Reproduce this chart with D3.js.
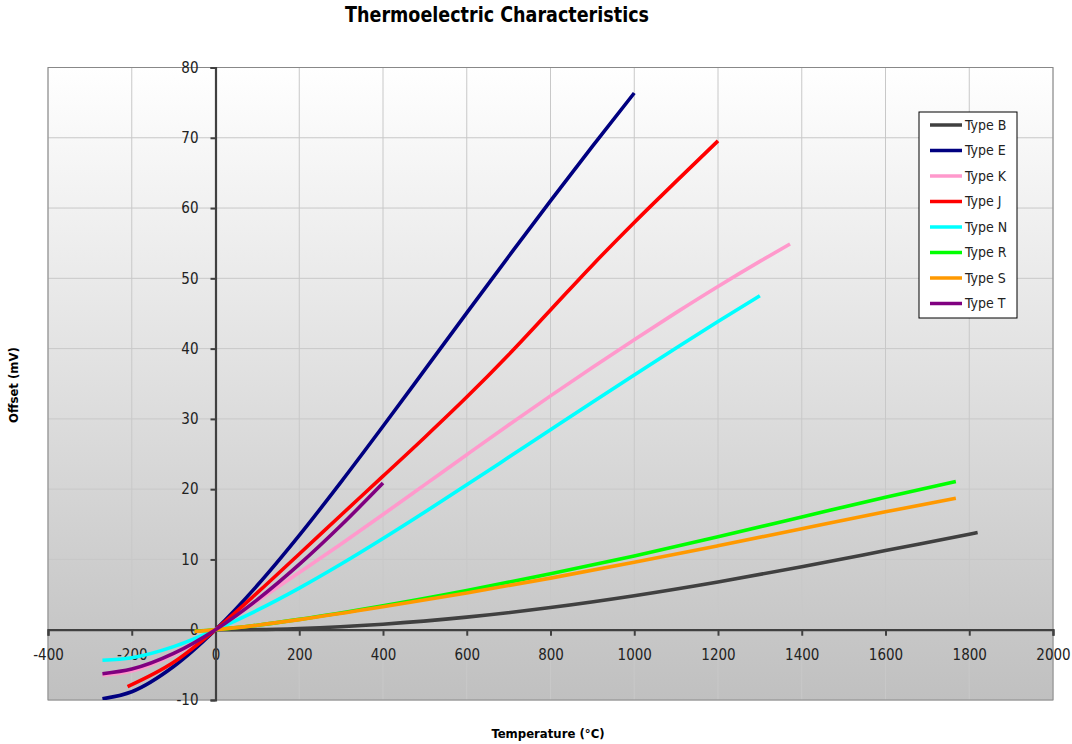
<!DOCTYPE html>
<html><head><meta charset="utf-8">
<script src="https://cdn.jsdelivr.net/npm/d3@7"></script>
<style>body{margin:0;background:#fff;} text{font-family:"DejaVu Sans Condensed","DejaVu Sans",sans-serif;font-stretch:condensed;}</style>
</head><body><svg id="c" width="1072" height="744"></svg>
<script>
const seriesNames = ["Type B","Type E","Type K","Type J","Type N","Type R","Type S","Type T"];
const seriesColors = ["#404040","#000080","#ff99cc","#ff0000","#00ffff","#00ff00","#ff9900","#800080"];
const tempB = [0,100,200,400,600,800,1000,1200,1400,1600,1800,1820];
const mvB = [0,0.033,0.178,0.787,1.792,3.154,4.834,6.786,8.956,11.263,13.591,13.820];
const tempE = [-270,-200,-100,0,100,200,300,400,500,600,700,800,900,1000];
const mvE = [-9.835,-8.825,-5.237,0,6.319,13.421,21.036,28.946,37.005,45.093,53.112,61.017,68.787,76.373];
const tempK = [-270,-200,-100,0,100,200,300,400,500,600,700,800,900,1000,1100,1200,1300,1372];
const mvK = [-6.458,-5.891,-3.554,0,4.096,8.138,12.209,16.397,20.644,24.905,29.129,33.275,37.326,41.276,45.119,48.838,52.410,54.886];
const tempJ = [-210,-100,0,100,200,300,400,500,600,700,800,900,1000,1100,1200];
const mvJ = [-8.095,-4.633,0,5.269,10.779,16.327,21.848,27.393,33.102,39.132,45.494,51.877,57.953,63.792,69.553];
const tempN = [-270,-200,-100,0,100,200,300,400,500,600,700,800,900,1000,1100,1200,1300];
const mvN = [-4.345,-3.990,-2.407,0,2.774,5.913,9.341,12.974,16.748,20.613,24.527,28.455,32.371,36.256,40.087,43.846,47.513];
const tempR = [-50,0,100,200,400,600,800,1000,1200,1400,1600,1768];
const mvR = [-0.226,0,0.647,1.469,3.408,5.583,7.950,10.506,13.228,16.040,18.849,21.101];
const tempS = [-50,0,100,200,400,600,800,1000,1200,1400,1600,1768];
const mvS = [-0.236,0,0.646,1.441,3.259,5.239,7.345,9.587,11.951,14.373,16.777,18.693];
const tempT = [-270,-200,-100,0,100,200,300,400];
const mvT = [-6.258,-5.603,-3.379,0,4.279,9.288,14.862,20.872];
const xTicks = [-400,-200,0,200,400,600,800,1000,1200,1400,1600,1800,2000];
const yTicks = [-10,0,10,20,30,40,50,60,70,80];

const temps = [tempB,tempE,tempK,tempJ,tempN,tempR,tempS,tempT];
const mvs = [mvB,mvE,mvK,mvJ,mvN,mvR,mvS,mvT];
const series = seriesNames.map((n,i)=>({name:n,color:seriesColors[i],pts:temps[i].map((t,j)=>[t,mvs[i][j]])}));

const svg = d3.select("#c");
const L=48,R=1053,T=67.5,B=700;
const x = d3.scaleLinear().domain([-400,2000]).range([L,R]);
const y = d3.scaleLinear().domain([-10,80]).range([B,T]);

const defs = svg.append("defs");
const g = defs.append("linearGradient").attr("id","bg").attr("x1",0).attr("y1",0).attr("x2",0).attr("y2",1);
g.append("stop").attr("offset","0%").attr("stop-color","#ffffff");
g.append("stop").attr("offset","100%").attr("stop-color","#c0c0c0");
defs.append("clipPath").attr("id","clip").append("rect").attr("x",L).attr("y",T).attr("width",R-L).attr("height",B-T);

svg.append("rect").attr("x",L).attr("y",T).attr("width",R-L).attr("height",B-T).attr("fill","url(#bg)");
svg.append("g").selectAll("line").data(xTicks).join("line")
  .attr("x1",d=>x(d)).attr("x2",d=>x(d)).attr("y1",T).attr("y2",B).attr("stroke","#c8c8c8").attr("stroke-width",1);
svg.append("g").selectAll("line").data(yTicks).join("line")
  .attr("y1",d=>y(d)).attr("y2",d=>y(d)).attr("x1",L).attr("x2",R).attr("stroke","#c8c8c8").attr("stroke-width",1);
svg.append("rect").attr("x",L).attr("y",T).attr("width",R-L).attr("height",B-T).attr("fill","none").attr("stroke","#888").attr("stroke-width",1);

const fmt = d=>String(d);
const xAxis = d3.axisBottom(x).tickValues(xTicks).tickSize(6).tickPadding(14).tickFormat(fmt);
const yAxis = d3.axisLeft(y).tickValues(yTicks).tickSize(5).tickPadding(12).tickFormat(fmt);
const ax = svg.append("g").attr("transform",`translate(0,${y(0)})`).call(xAxis);
const ay = svg.append("g").attr("transform",`translate(${x(0)},0)`).call(yAxis);
[ax,ay].forEach(a=>{
  a.select(".domain").attr("stroke","#404040").attr("stroke-width",2.2);
  a.selectAll(".tick line").attr("stroke","#404040").attr("stroke-width",2);
  a.selectAll(".tick text").attr("fill","#222").style("font-size","15px");
});

const line = d3.line().x(d=>x(d[0])).y(d=>y(d[1])).curve(d3.curveMonotoneX);
svg.append("g").attr("clip-path","url(#clip)").selectAll("path").data(series).join("path")
  .attr("d",d=>line(d.pts)).attr("fill","none").attr("stroke",d=>d.color).attr("stroke-width",3.6).attr("stroke-linejoin","round");

svg.append("text").attr("x",497).attr("y",22).attr("text-anchor","middle").attr("textLength",304).attr("lengthAdjust","spacingAndGlyphs").style("font-size","21px").style("font-weight","bold").text("Thermoelectric Characteristics");
svg.append("text").attr("x",548).attr("y",738).attr("text-anchor","middle").style("font-size","13px").style("font-weight","bold").text("Temperature (°C)");
svg.append("text").attr("transform","translate(18,385) rotate(-90)").attr("text-anchor","middle").style("font-size","13px").style("font-weight","bold").text("Offset (mV)");

const lg = svg.append("g").attr("transform","translate(919,112)");
lg.append("rect").attr("width",98).attr("height",206).attr("fill","#fff").attr("stroke","#000").attr("stroke-width",1);
const items = lg.selectAll("g").data(series).join("g").attr("transform",(d,i)=>`translate(0,${13+i*25.5})`);
items.append("line").attr("x1",11).attr("x2",43).attr("stroke",d=>d.color).attr("stroke-width",3.5);
items.append("text").attr("x",46).attr("dy","0.35em").style("font-size","14px").attr("fill","#222").text(d=>d.name);
</script></body></html>
